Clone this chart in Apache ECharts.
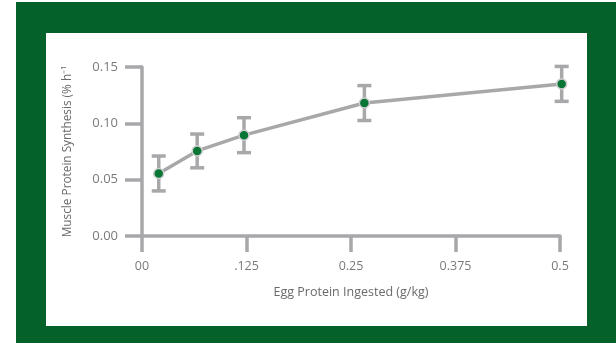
<!DOCTYPE html>
<html>
<head>
<meta charset="utf-8">
<script src="https://cdn.jsdelivr.net/npm/echarts@6/dist/echarts.min.js"></script>
<style>
html,body{margin:0;padding:0;background:#fff;}
#c{width:616px;height:343px;}
</style>
</head>
<body>
<div id="c"></div>
<script>
// Data
var doses = [0.02, 0.066, 0.122, 0.266, 0.502];
var synthesis = [0.0555, 0.0755, 0.0895, 0.118, 0.135];
var errors = [0.0155, 0.015, 0.0155, 0.0155, 0.0155];
var xTickValues = [0, 0.125, 0.25, 0.375, 0.5];
var xTickLabels = ['00', '.125', '0.25', '0.375', '0.5'];
var yTickLabels = ['0.00', '0.05', '0.10', '0.15'];

var GREEN = '#05612a';
var DOT = '#0a7636';
var GRAY = '#a8a8aa';
var TEXT = '#7a7a7c';
var TITLE = '#6a6a6c';
var FONT = 'Open Sans';

var points = doses.map(function (d, i) { return [d, synthesis[i]]; });
var errData = doses.map(function (d, i) { return [d, synthesis[i] - errors[i], synthesis[i] + errors[i]]; });

var chart = echarts.init(document.getElementById('c'), null, {renderer: 'canvas'});
chart.setOption({
  animation: false,
  backgroundColor: '#fff',
  graphic: [
    {type: 'rect', z: -10, silent: true, shape: {x: 16, y: 2, width: 600, height: 341}, style: {fill: GREEN}},
    {type: 'rect', z: -9, silent: true, shape: {x: 46, y: 33, width: 541, height: 293}, style: {fill: '#fff'}}
  ],
  grid: {left: 142, right: 56, top: 67, bottom: 107, containLabel: false},
  xAxis: {
    type: 'value', min: 0, max: 0.5, interval: 0.125,
    name: 'Egg Protein Ingested (g/kg)', nameLocation: 'middle', nameGap: 50,
    nameTextStyle: {color: TITLE, fontFamily: FONT, fontSize: 12.5},
    axisLine: {show: true, lineStyle: {color: GRAY, width: 3.5}},
    axisTick: {show: true, length: 16, lineStyle: {color: GRAY, width: 3.5}},
    axisLabel: {
      color: TEXT, fontFamily: FONT, fontSize: 12.5, margin: 24,
      formatter: function (v) {
        for (var i = 0; i < xTickValues.length; i++) if (Math.abs(xTickValues[i] - v) < 1e-9) return xTickLabels[i];
        return '';
      }
    },
    splitLine: {show: false}
  },
  yAxis: {
    type: 'value', min: 0, max: 0.15, interval: 0.05,
    name: 'Muscle Protein Synthesis (% h\u207B\u00B9', nameLocation: 'middle', nameGap: 68, nameRotate: 90,
    nameTextStyle: {color: TITLE, fontFamily: FONT, fontSize: 11.8},
    axisLine: {show: true, lineStyle: {color: GRAY, width: 3.5}},
    axisTick: {show: true, length: 17, lineStyle: {color: GRAY, width: 3.5}},
    axisLabel: {
      color: TEXT, fontFamily: FONT, fontSize: 13, margin: 24,
      formatter: function (v) { return yTickLabels[Math.round(v / 0.05)]; }
    },
    splitLine: {show: false}
  },
  series: [
    {
      type: 'custom',
      data: errData,
      z: 2,
      clip: false,
      renderItem: function (params, api) {
        var x = api.value(0);
        var lo = api.coord([x, api.value(1)]);
        var hi = api.coord([x, api.value(2)]);
        var hw = 7;
        var st = {stroke: GRAY, lineWidth: 3.5, fill: null};
        return {
          type: 'group',
          children: [
            {type: 'line', shape: {x1: lo[0], y1: lo[1], x2: hi[0], y2: hi[1]}, style: st},
            {type: 'line', shape: {x1: lo[0] - hw, y1: lo[1], x2: lo[0] + hw, y2: lo[1]}, style: st},
            {type: 'line', shape: {x1: hi[0] - hw, y1: hi[1], x2: hi[0] + hw, y2: hi[1]}, style: st}
          ]
        };
      }
    },
    {
      type: 'line',
      data: points,
      z: 3,
      clip: false,
      symbol: 'circle',
      symbolSize: 10,
      lineStyle: {color: GRAY, width: 3.5},
      itemStyle: {color: DOT, borderColor: '#cfcfd1', borderWidth: 1.5},
      emphasis: {disabled: true}
    }
  ]
});
</script>
</body>
</html>
